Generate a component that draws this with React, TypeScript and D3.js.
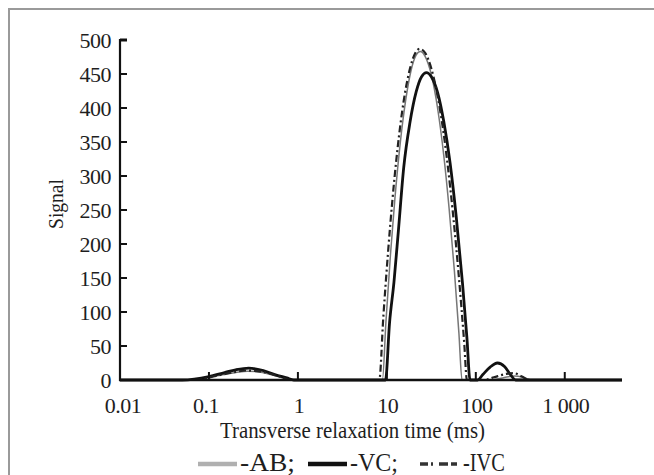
import React from "react";
import * as d3 from "d3";

// ---- data (t in ms, signal) ----
const vcT = [0.01, 0.05, 0.1, 0.15, 0.2, 0.28, 0.4, 0.55, 0.75, 0.9, 9.66, 10.72, 12.02, 13.49, 15.49, 18.2, 21.38, 24.55, 27.86, 31.62, 37.15, 43.65, 51.29, 60.26, 70.79, 79.43, 86.1, 105, 120, 145, 175, 210, 245, 280, 4400];
const vcV = [0, 0, 5, 11, 15, 17.5, 14, 8, 3, 0, 0, 84, 144, 220, 313, 379, 424, 446, 452, 446, 423, 380, 320, 240, 143, 62, 0, 0, 8, 19, 25, 20, 8, 0, 0];

const ivcT = [0.01, 0.07, 0.12, 0.2, 0.26, 0.4, 0.6, 0.85, 8.22, 9.12, 10.23, 11.48, 13.18, 15.49, 18.2, 20.89, 23.44, 26.92, 31.62, 37.15, 43.65, 51.29, 60.26, 69.18, 74.13, 79.43, 125, 160, 220, 270, 330, 400, 4400];
const ivcV = [0, 0, 6, 12, 14, 12, 6, 0, 0, 92, 182, 261, 340, 411, 458, 481, 487, 481, 458, 418, 361, 286, 195, 104, 54, 0, 0, 4, 9, 10, 5, 0, 0];

const abT = [0.01, 0.06, 0.1, 0.2, 0.27, 0.4, 0.6, 0.85, 8.91, 9.77, 10.96, 12.3, 14.13, 16.22, 18.62, 21.38, 23.71, 26.92, 31.62, 37.15, 43.65, 50.12, 57.54, 64.57, 69.98, 140, 200, 270, 340, 420, 4400];
const abV = [0, 0, 4, 11, 13, 11, 5, 0, 0, 86, 183, 266, 348, 410, 454, 478, 483, 476, 449, 400, 330, 252, 159, 69, 0, 0, 3, 6, 4, 0, 0];

const xTicks = [0.01, 0.1, 1, 10, 100, 1000];
const xTickLabels = ["0.01", "0.1", "1", "10", "100", "1 000"];
const yTicks = [0, 50, 100, 150, 200, 250, 300, 350, 400, 450, 500];

const FONT = "'Liberation Serif', 'DejaVu Serif', serif";

export default function App() {
  const W = 654, H = 475;
  const x = d3.scaleLog().domain([0.01, 4400]).range([120, 622]);
  const y = d3.scaleLinear().domain([0, 500]).range([380, 40]);
  const line = (ts: number[], vs: number[]) =>
    d3.line<number>()
      .x((_, i) => x(ts[i]))
      .y((v) => y(v))
      .curve(d3.curveMonotoneX)(vs) || "";

  const txt = "#1e1e1e";
  return (
    <svg width={W} height={H} style={{ position: "absolute", left: 0, top: 0, background: "#fff" }}>
      <rect x={0} y={0} width={W} height={H} fill="#fff" />
      {/* frame */}
      <path d={`M9,${H} L9,9 L${W},9`} fill="none" stroke="#9a9a9a" strokeWidth={2} />

      {/* curves */}
      <path d={line(abT, abV)} fill="none" stroke="#777" strokeWidth={1.5} />
      <path d={line(vcT, vcV)} fill="none" stroke="#111" strokeWidth={2.8} />
      <path d={line(ivcT, ivcV)} fill="none" stroke="#222" strokeWidth={2.2} strokeDasharray="7,3,2,3" />

      {/* axes */}
      <line x1={120} y1={y(500) - 1} x2={120} y2={y(0) + 1} stroke="#111" strokeWidth={2.2} />
      <line x1={119} y1={y(0)} x2={622} y2={y(0)} stroke="#111" strokeWidth={2.5} />
      {yTicks.map((t) => (
        <g key={t}>
          <line x1={120} x2={127} y1={y(t)} y2={y(t)} stroke="#111" strokeWidth={t === 500 ? 3 : 2} />
          <text x={111} y={y(t)} dy="0.36em" textAnchor="end" fontFamily={FONT} fontSize={22} fill={txt} letterSpacing={-0.5}>
            {t}
          </text>
        </g>
      ))}
      {xTicks.map((t, i) => (
        <g key={t}>
          {i > 0 && <line x1={x(t)} x2={x(t)} y1={y(0)} y2={y(0) - 8} stroke="#111" strokeWidth={2} />}
          <text x={x(t) + (i === 0 ? 3 : i === 1 ? -3 : 1)} y={413} textAnchor="middle" fontFamily={FONT} fontSize={22} fill={txt} letterSpacing={-0.5}>
            {xTickLabels[i]}
          </text>
        </g>
      ))}
      <text x={220} y={438} fontFamily={FONT} fontSize={23} fill={txt} textLength={265} lengthAdjust="spacingAndGlyphs">
        Transverse relaxation time (ms)
      </text>
      <text transform="translate(63,204) rotate(-90)" x={-25} fontFamily={FONT} fontSize={22} fill={txt} textLength={50} lengthAdjust="spacingAndGlyphs">
        Signal
      </text>

      {/* legend */}
      <line x1={198} x2={237} y1={464} y2={464} stroke="#b0b0b0" strokeWidth={4.5} />
      <text x={240} y={471} fontFamily={FONT} fontSize={25} fill={txt} textLength={55} lengthAdjust="spacingAndGlyphs">-AB;</text>
      <line x1={308} x2={347} y1={464} y2={464} stroke="#111" strokeWidth={4.5} />
      <text x={350} y={471} fontFamily={FONT} fontSize={25} fill={txt} textLength={48} lengthAdjust="spacingAndGlyphs">-VC;</text>
      <line x1={420} x2={463} y1={464} y2={464} stroke="#333" strokeWidth={3.5} strokeDasharray="8,3,2,6,9,3,6" />
      <text x={463} y={471} fontFamily={FONT} fontSize={25} fill={txt} textLength={42} lengthAdjust="spacingAndGlyphs">-IVC</text>
    </svg>
  );
}
